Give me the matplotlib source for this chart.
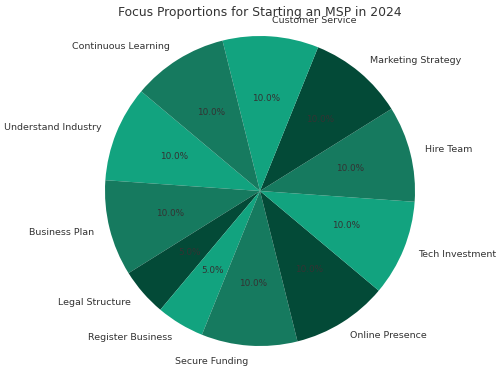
import matplotlib
matplotlib.use("Agg")
import matplotlib.pyplot as plt

labels = ["Understand Industry", "Business Plan", "Legal Structure", "Register Business",
          "Secure Funding", "Online Presence", "Tech Investment", "Hire Team",
          "Marketing Strategy", "Customer Service", "Continuous Learning"]
values = [10, 10, 5, 5, 10, 10, 10, 10, 10, 10, 10]
colors = ["#12a37f", "#167a5f", "#034a37"]

fig = plt.figure(figsize=(5, 3.72), dpi=100)
W = 387.5 / 500
H = 387.5 / 372
ax = fig.add_axes([260 / 500 - W / 2, (372 - 191) / 372 - H / 2, W, H])
wedges, texts, autotexts = ax.pie(values, labels=labels, colors=colors, startangle=140,
                                  autopct="%1.1f%%",
                                  textprops={"color": "#333333", "fontsize": 6.8})
for t in autotexts:
    t.set_fontsize(6.4)
ax.set_xlim(-1.25, 1.25)
ax.set_ylim(-1.25, 1.25)
ax.set_aspect("equal")
fig.text(0.519, 1 - 12.5 / 372, "Focus Proportions for Starting an MSP in 2024",
         ha="center", va="center", fontsize=8.9, color="#333333")
fig.savefig("out.png", dpi=100)
